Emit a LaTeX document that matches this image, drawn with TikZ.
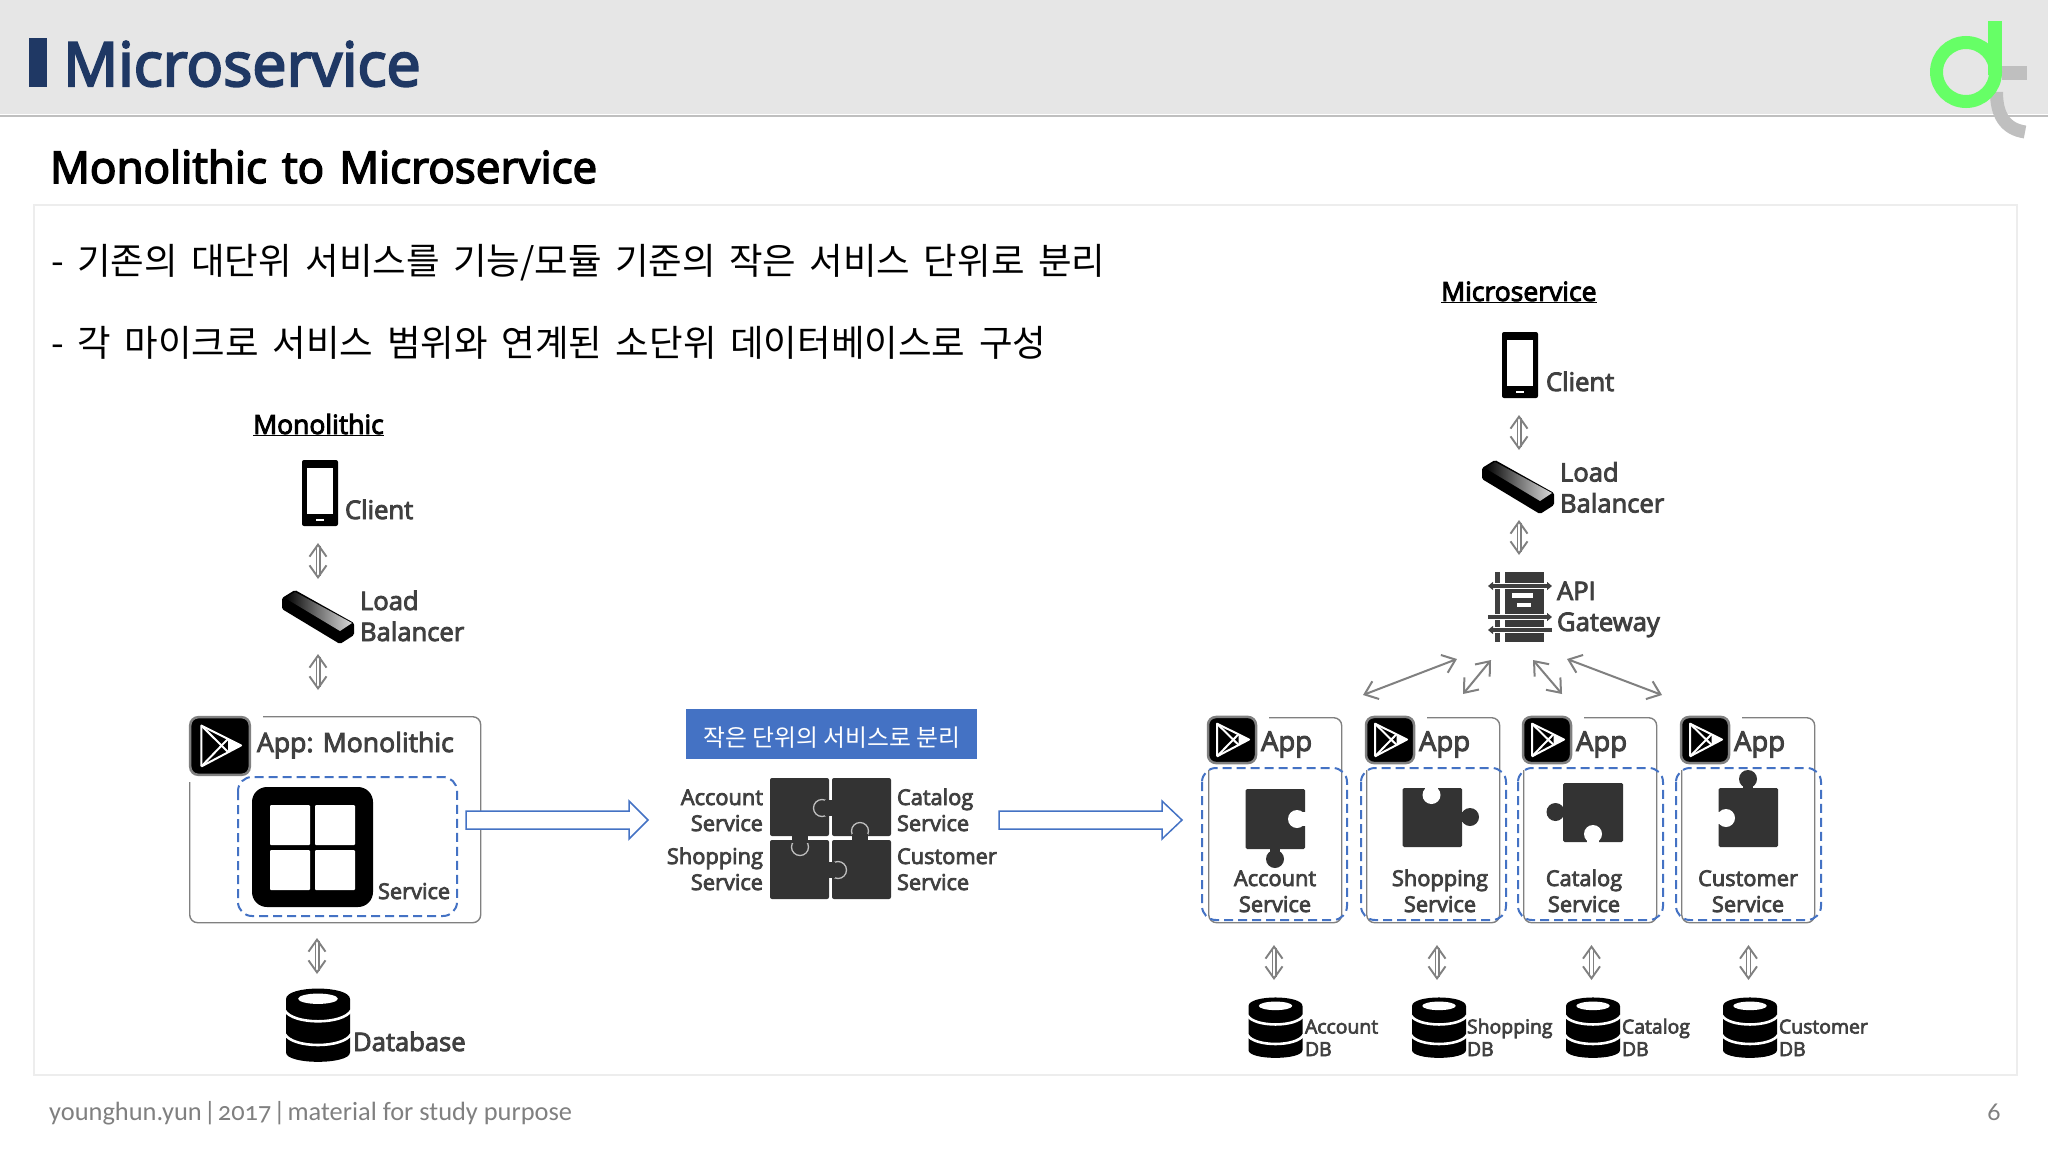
\documentclass[tikz,border=0pt]{standalone}
\usepackage{fontspec}
\usetikzlibrary{arrows.meta,calc}
\setmainfont{Open Sans}
\newfontfamily\semi[FakeBold=3.5]{Open Sans}
\newfontfamily\kr{Noto Sans CJK KR}
\newfontfamily\foot[Numbers=OldStyle]{Carlito}
\definecolor{hdr}{HTML}{E6E6E6}
\definecolor{navy}{HTML}{1F3864}
\definecolor{labc}{HTML}{404040}
\definecolor{svcblue}{HTML}{4472C4}
\definecolor{arrowgray}{HTML}{808080}
\definecolor{puz}{HTML}{333333}
\definecolor{logogreen}{HTML}{66FF66}
\definecolor{logogray}{HTML}{BFBFBF}
\tikzset{
  lab/.style={anchor=base west,inner sep=0pt,outer sep=0pt,text=labc,align=left,font=\semi\fontsize{25.6}{31}\selectfont},
  labapp/.style={lab,font=\semi\fontsize{27.5}{31}\selectfont},
  labsm/.style={lab,font=\semi\fontsize{21.8}{26}\selectfont},
  labdb/.style={lab,font=\semi\fontsize{19.4}{22.5}\selectfont},
  labr/.style={labsm,anchor=base east,align=right},
  labcc/.style={labsm,anchor=base,align=center},
  heading/.style={anchor=base west,inner sep=0pt,text=black,font=\semi\fontsize{26.5}{31}\selectfont},
  bi/.style={draw=arrowgray,line width=1.3pt,double=white,double distance=2.4pt,{Straight Barb[length=12pt,width=17pt,line width=1.9pt]}-{Straight Barb[length=12pt,width=17pt,line width=1.9pt]}},
  biline/.style={draw=arrowgray,line width=2pt,{Straight Barb[length=12pt,width=19pt]}-{Straight Barb[length=12pt,width=19pt]}},
  dashbox/.style={draw=svcblue,line width=2pt,dash pattern=on 9pt off 5pt,rounded corners=14pt},
  appbox/.style={draw=arrowgray,line width=1.4pt,rounded corners=8pt,fill=white},
  hollow/.style={draw=svcblue,line width=1.5pt,fill=white},
}
% name, x, y
\newcommand{\phoneicon}[3]{%
  \fill[black,rounded corners=2pt] (#2,#3) rectangle ++(36,66);
  \fill[white] (#2+5,#3+8) rectangle ++(26,46);
  \fill[white] (#2+14,#3+59) rectangle ++(8,2);
  \coordinate (#1) at (#2+18,#3+33);
}
\newcommand{\lbicon}[3]{%
  \fill[black,rounded corners=1.5pt] (#2+1,#3+9) -- (#2+14,#3+1) -- (#2+73,#3+34) -- (#2+73,#3+46) -- (#2+59,#3+55) -- (#2+1,#3+20) -- cycle;
  \shade[left color=black,right color=white!85!black,middle color=black!55] (#2+4,#3+9) -- (#2+14,#3+3) -- (#2+71,#3+34) -- (#2+59,#3+42) -- cycle;
  \coordinate (#1) at (#2+36,#3+27);
}
% name,x,y,w,h
\newcommand{\dbicon}[5]{%
  \begin{scope}[shift={(#2,#3)},x=#4pt,y=-#5pt]
    \fill[black] (0,.15) .. controls (0,-.04) and (1,-.04) .. (1,.15) -- (1,.87) .. controls (1,1.04) and (0,1.04) .. (0,.87) -- cycle;
    \fill[white] (.5,.145) ellipse [x radius=.31,y radius=.07];
    \draw[white,line width=2.6pt] (-.02,.30) .. controls (.1,.5) and (.9,.5) .. (1.02,.30);
    \draw[white,line width=2.6pt] (-.02,.62) .. controls (.1,.82) and (.9,.82) .. (1.02,.62);
  \end{scope}
  \coordinate (#1) at (#2+#4/2,#3+#5/2);
}
\newcommand{\playicon}[5]{%
  \fill[white] (#2-2,#3-2) rectangle ++(#4+14,#5+8);
  \begin{scope}[shift={(#2,#3)},x=#4pt,y=-#5pt]
    \draw[arrowgray,fill=black,line width=2.5pt,rounded corners=8pt] (0.02,0.02) rectangle (.98,.98);
    \fill[white] (.63,.38) -- (.84,.49) -- (.63,.60) -- cycle;
    \draw[white,line width=2pt,line join=round] (.20,.84) -- (.20,.16) -- (.84,.49) -- (.20,.84);
    \draw[white,line width=2pt] (.20,.16) -- (.63,.60);
    \draw[white,line width=2pt] (.20,.84) -- (.63,.38);
  \end{scope}
  \coordinate (#1) at (#2+#4/2,#3+#5/2);
}
% arrow: name,x,y1,y2
\newcommand{\biarrow}[4]{%
  \coordinate (#1t) at (#2,#3);
  \coordinate (#1b) at (#2,#4);
  \draw[bi] (#1t) -- (#1b);
}
% x1,x2,xh,ymid
\newcommand{\bigarrow}[4]{%
  \draw[hollow,line join=miter] (#1,#4-9) -- (#3,#4-9) -- (#3,#4-19) -- (#2,#4) -- (#3,#4+19) -- (#3,#4+9) -- (#1,#4+9) -- cycle;
}
\newcommand{\tabc}[4]{%
  \fill[puz] (#1,#2) circle (9);
  \fill[puz] #3 rectangle #4;
}
\newcommand{\notch}[4]{%
  \fill[white] (#1,#2) circle (9);
  \fill[white] #3 rectangle #4;
}
\begin{document}
\begin{tikzpicture}[x=1pt,y=-1pt]
\useasboundingbox (0,0) rectangle (2048,1152);
\fill[white] (0,0) rectangle (2048,1152);
% header
\fill[hdr] (0,0) rectangle (2048,114);
\fill[logogray] (0,115) rectangle (2048,117);
\fill[navy] (29,38) rectangle (47,87);
\node[anchor=base west,inner sep=0pt,text=navy,font=\semi\fontsize{61}{66}\selectfont] (title) at (63,86) {Microservice};
% logo
\draw[logogray,line width=13pt] (1996.5,92) .. controls (1996.5,115) and (2005,129) .. (2025,132);
\fill[logogray] (2002,66) rectangle (2027,80);
\draw[logogreen,line width=13pt] (1966,72) circle (29.5);
\fill[logogreen] (1988,21) rectangle (2002,75);
% subtitle and frame
\node[anchor=base west,inner sep=0pt,text=black,font=\semi\fontsize{44}{46}\selectfont] (sub) at (50,183) {\makebox[547pt][s]{Monolithic to Microservice}};
\draw[black!7,line width=1.2pt] (34,205) rectangle (2017,1075);
\node[anchor=base west,inner sep=0pt,text=black,font=\kr\fontsize{36.5}{40}\selectfont] (t1) at (51,274) {\makebox[1054pt][s]{- 기존의 대단위 서비스를 기능/모듈 기준의 작은 서비스 단위로 분리}};
\node[anchor=base west,inner sep=0pt,text=black,font=\kr\fontsize{36.5}{40}\selectfont] (t2) at (51,356) {\makebox[995pt][s]{- 각 마이크로 서비스 범위와 연계된 소단위 데이터베이스로 구성}};
% Monolithic column
\node[heading] (hmono) at (253,434) {\underline{Monolithic}};
\phoneicon{mclient}{302}{460}
\node[lab] (mclientl) at (345,519) {Client};
\biarrow{ma}{318}{543}{579}
\lbicon{mlb}{281}{589}
\node[lab] (mlbl) at (360,641) {Load\\Balancer};
\biarrow{mb}{318}{654}{690}
\node[appbox,anchor=north west,inner sep=0pt,minimum width=291pt,minimum height=206pt] (mapp) at (189,716) {};
\playicon{mplay}{189}{716}{62}{60}
\node[lab,font=\semi\fontsize{26.6}{31}\selectfont] (mappl) at (257,752) {App: Monolithic};
\draw[dashbox] (238,777) rectangle (457,916);
\fill[black,rounded corners=15pt] (252,787) rectangle (373,907);
\fill[white,rounded corners=1pt] (270,805) rectangle (310,845);
\fill[white,rounded corners=1pt] (315,805) rectangle (355,845);
\fill[white,rounded corners=1pt] (270,850) rectangle (310,890);
\fill[white,rounded corners=1pt] (315,850) rectangle (355,890);
\node[labsm] (msvc) at (378,899) {Service};
\biarrow{mc}{317}{938}{974}
\dbicon{mdb}{286}{988}{64}{74}
\node[lab] (mdbl) at (353,1051) {Database};
% arrows
\bigarrow{466}{648}{629}{820}
\bigarrow{999}{1182}{1162}{820}
% middle
\node[fill=svcblue,anchor=north west,inner sep=0pt,minimum width=291pt,minimum height=50pt,text=white,font=\kr\fontsize{23.8}{26}\selectfont] (split) at (686,709) {\raisebox{-12pt}[0pt][0pt]{작은 단위의 서비스로 분리}};
\fill[puz,rounded corners=2pt] (770,778) rectangle (829,836);
\fill[puz,rounded corners=2pt] (832,778) rectangle (891,836);
\fill[puz,rounded corners=2pt] (770,840) rectangle (829,899);
\fill[puz,rounded corners=2pt] (832,840) rectangle (891,899);
\draw[logogray,line width=1.3pt,fill=puz] (822,808) circle (8.5);
\fill[puz] (825,800) rectangle (834,816);
\draw[logogray,line width=1.3pt,fill=puz] (860,831) circle (8.5);
\fill[puz] (852,834) rectangle (868,842);
\draw[logogray,line width=1.3pt,fill=puz] (800,847) circle (8.5);
\fill[puz] (792,836) rectangle (808,843);
\draw[logogray,line width=1.3pt,fill=puz] (838,870) circle (8.5);
\fill[puz] (826,862) rectangle (835,878);
\node[labr] (p1) at (763,831) {Account\\Service};
\node[labr] (p2) at (763,890) {Shopping\\Service};
\node[labsm] (p3) at (897,831) {Catalog\\Service};
\node[labsm] (p4) at (897,890) {Customer\\Service};
% Microservice column
\node[heading] (hmicro) at (1441,301) {\underline{Microservice}};
\phoneicon{uclient}{1502}{332}
\node[lab] (uclientl) at (1546,391) {Client};
\biarrow{ua}{1519}{415}{450}
\lbicon{ulb}{1481}{459}
\node[lab] (ulbl) at (1560,512.5) {Load\\Balancer};
\biarrow{ub}{1519}{520}{555}
% gateway
\fill[labc!90!black] (1505,572) rectangle (1544,642);
\fill[labc] (1495,572) rectangle (1500,642);
\fill[white] (1512,593) rectangle (1533,598);
\fill[white] (1517,603) rectangle (1531,607);
\draw[white,line width=6pt] (1488,586) -- (1552,586);
\draw[white,line width=6pt] (1488,617) -- (1552,617);
\draw[white,line width=6pt] (1488,630) -- (1552,630);
\draw[labc,line width=3.2pt,{Triangle[length=5pt,width=8pt]}-{Triangle[length=5pt,width=8pt]}] (1488,586) -- (1552,586);
\draw[labc,line width=3.2pt,-{Triangle[length=5pt,width=8pt]}] (1488,617) -- (1552,617);
\draw[labc,line width=3.2pt,{Triangle[length=5pt,width=8pt]}-] (1488,630) -- (1552,630);
\coordinate (ugw) at (1520,607);
\node[lab] (ugwl) at (1557,631) {API\\Gateway};
% diagonals
\coordinate (d1a) at (1363,695); \coordinate (d1b) at (1457,659);
\coordinate (d2a) at (1463,694); \coordinate (d2b) at (1491,660);
\coordinate (d3a) at (1533,660); \coordinate (d3b) at (1562,694);
\coordinate (d4a) at (1567,659); \coordinate (d4b) at (1662,695);
\draw[biline] (d1a) -- (d1b);
\draw[biline] (d2a) -- (d2b);
\draw[biline] (d3a) -- (d3b);
\draw[biline] (d4a) -- (d4b);
% apps
\node[appbox,anchor=north west,inner sep=0pt,minimum width=133pt,minimum height=205pt] (a1) at (1208,717) {};
\node[appbox,anchor=north west,inner sep=0pt,minimum width=133pt,minimum height=205pt] (a2) at (1366,717) {};
\node[appbox,anchor=north west,inner sep=0pt,minimum width=133pt,minimum height=205pt] (a3) at (1523,717) {};
\node[appbox,anchor=north west,inner sep=0pt,minimum width=133pt,minimum height=205pt] (a4) at (1681,717) {};
\playicon{p1i}{1207}{716}{50}{48}
\playicon{p2i}{1365}{716}{50}{48}
\playicon{p3i}{1522}{716}{50}{48}
\playicon{p4i}{1680}{716}{50}{48}
\node[labapp] (aa1) at (1261,751) {App};
\node[labapp] (aa2) at (1419,751) {App};
\node[labapp] (aa3) at (1576,751) {App};
\node[labapp] (aa4) at (1734,751) {App};
\draw[dashbox] (1202,768) rectangle (1347,920);
\draw[dashbox] (1361,768) rectangle (1506,920);
\draw[dashbox] (1518,768) rectangle (1663,920);
\draw[dashbox] (1676,768) rectangle (1821,920);
% puzzle pieces
\fill[puz,rounded corners=1.5pt] (1245.5,789) rectangle (1305,849);
\tabc{1275}{859}{(1270,848)}{(1280,854)}
\notch{1297}{819}{(1298,812)}{(1306,826)}
\fill[puz,rounded corners=1.5pt] (1402.5,788) rectangle (1462,847);
\tabc{1470}{817}{(1461,812)}{(1466,822)}
\notch{1431.5}{795}{(1425,787)}{(1438,795)}
\fill[puz,rounded corners=1.5pt] (1563,783) rectangle (1623,842);
\tabc{1555.5}{812}{(1559,807)}{(1564,817)}
\notch{1593}{834}{(1587,834)}{(1599,843)}
\fill[puz,rounded corners=1.5pt] (1718.6,788) rectangle (1778,847);
\tabc{1748}{779}{(1743,782)}{(1753,789)}
\notch{1726}{818}{(1718,812)}{(1726,824)}
\node[labcc] (s1) at (1275,912) {Account\\Service};
\node[labcc] (s2) at (1440,912) {Shopping\\Service};
\node[labcc] (s3) at (1584,912) {Catalog\\Service};
\node[labcc] (s4) at (1748,912) {Customer\\Service};
% lower arrows
\biarrow{v1}{1274}{945}{980}
\biarrow{v2}{1437}{945}{980}
\biarrow{v3}{1591.5}{945}{980}
\biarrow{v4}{1748.5}{945}{980}
% dbs
\dbicon{d1}{1248.5}{997}{54}{61}
\dbicon{d2}{1412}{997}{54}{61}
\dbicon{d3}{1566}{997}{54}{61}
\dbicon{d4}{1723}{997}{54}{61}
\node[labdb] (dl1) at (1305,1056) {Account\\DB};
\node[labdb] (dl2) at (1467,1056) {Shopping\\DB};
\node[labdb] (dl3) at (1622,1056) {Catalog\\DB};
\node[labdb] (dl4) at (1779,1056) {Customer\\DB};
% footer
\node[anchor=base west,inner sep=0pt,text=arrowgray,font=\foot\fontsize{26.4}{30}\selectfont] (ft) at (49,1120) {younghun.yun\hspace{2pt}|\hspace{2pt}2017\hspace{2pt}|\hspace{2pt}material for study purpose};
\node[anchor=base,inner sep=0pt,text=arrowgray,font=\foot\fontsize{26}{30}\selectfont] (pg) at (1994,1120) {6};
\end{tikzpicture}
\end{document}
